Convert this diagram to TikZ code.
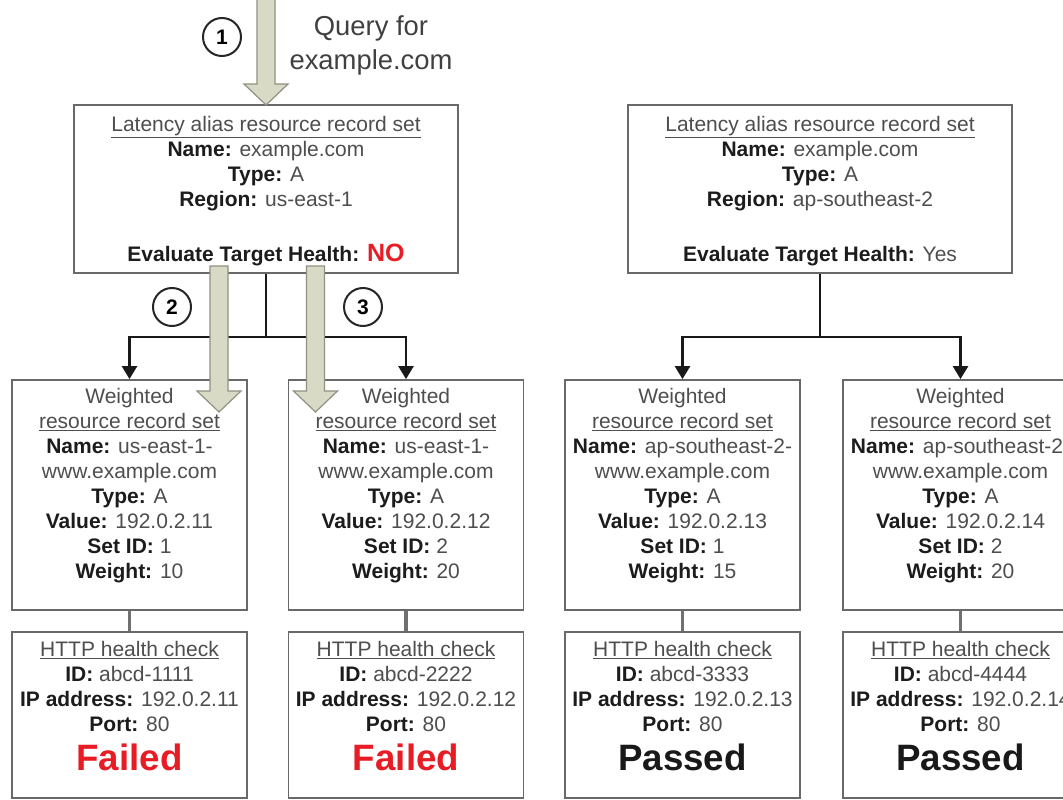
\documentclass[tikz,border=0pt]{standalone}
\usepackage{fontspec}
\setmainfont{Liberation Sans}
\usepackage{tikz}
\usetikzlibrary{arrows.meta,positioning,calc}
\definecolor{cText}{RGB}{78,78,78}
\definecolor{cLabel}{RGB}{28,28,28}
\definecolor{cBorder}{RGB}{105,105,105}
\definecolor{cFail}{RGB}{232,28,36}
\definecolor{cBlock}{RGB}{217,218,198}
\definecolor{cBlockLine}{RGB}{145,145,130}
\definecolor{cLink}{RGB}{112,112,112}
\newcommand{\lbl}[1]{\textbf{\color{cLabel}#1}}
\newcommand{\hdr}[1]{\underline{#1}}
\tikzset{
	recbox/.style={draw=cBorder, line width=1.8pt, fill=white, inner sep=0pt},
	latbox/.style={recbox, minimum width=384pt, minimum height=168pt},
	wbox/.style={recbox, minimum width=235pt, minimum height=230pt},
	hcbox/.style={recbox, minimum width=235pt, minimum height=166pt},
	rtext/.style={inner sep=0pt, align=center, text=cText,
		font=\fontsize{21}{25}\selectfont},
	stattxt/.style={inner sep=0pt, font=\fontsize{36.7}{40}\selectfont\bfseries},
	treeline/.style={line width=2.5pt, draw=black!90},
	treearr/.style={-{Triangle[length=13pt,width=15pt]}, line width=2.5pt,
		draw=black!90},
	hclink/.style={line width=3.5pt, draw=cLink},
	blockarr/.style={draw=cBlockLine, line width=1.2pt, fill=cBlock},
	stepnum/.style={circle, draw=black!85, line width=2pt, minimum size=38pt,
		inner sep=0pt, font=\fontsize{21}{21}\selectfont\bfseries},
}

\begin{document}
\begin{tikzpicture}[x=1pt, y=-1pt]
	\useasboundingbox (0,0) rectangle (1063,800);
	% latency records
	\node[latbox] (lat1) at (266,189) {};
	\node[latbox] (lat2) at (820,189) {};
	% weighted records and health checks
	\foreach \n/\cx in {1/129.5, 2/406, 3/682.5, 4/960.5} {
		\node[wbox] (w\n) at (\cx,495) {};
		\node[hcbox] (h\n) at (\cx,715) {};
		\draw[hclink] (w\n.south) -- (h\n.north);
	}
	\node[rtext, below=12pt of lat1.north] (lat1t) {\hdr{Latency alias resource record set}\\
		\lbl{Name:} example.com\\ \lbl{Type:} A\\ \lbl{Region:} us-east-1\\[30pt]
		\lbl{Evaluate Target Health:} {\fontsize{25}{25}\selectfont\bfseries\color{cFail}NO}};
	\node[rtext, below=12pt of lat2.north] (lat2t) {\hdr{Latency alias resource record set}\\
		\lbl{Name:} example.com\\ \lbl{Type:} A\\ \lbl{Region:} ap-southeast-2\\[30pt]
		\lbl{Evaluate Target Health:} Yes};
	\node[rtext, below=9pt of w1.north] (w1t) {Weighted\\ \hdr{resource record set}\\
		\lbl{Name:} us-east-1-\\ www.example.com\\ \lbl{Type:} A\\
		\lbl{Value:} 192.0.2.11\\ \lbl{Set ID:} 1\\ \lbl{Weight:} 10};
	\node[rtext, below=9pt of w2.north] (w2t) {Weighted\\ \hdr{resource record set}\\
		\lbl{Name:} us-east-1-\\ www.example.com\\ \lbl{Type:} A\\
		\lbl{Value:} 192.0.2.12\\ \lbl{Set ID:} 2\\ \lbl{Weight:} 20};
	\node[rtext, below=9pt of w3.north] (w3t) {Weighted\\ \hdr{resource record set}\\
		\lbl{Name:} ap-southeast-2-\\ www.example.com\\ \lbl{Type:} A\\
		\lbl{Value:} 192.0.2.13\\ \lbl{Set ID:} 1\\ \lbl{Weight:} 15};
	\node[rtext, below=9pt of w4.north] (w4t) {Weighted\\ \hdr{resource record set}\\
		\lbl{Name:} ap-southeast-2-\\ www.example.com\\ \lbl{Type:} A\\
		\lbl{Value:} 192.0.2.14\\ \lbl{Set ID:} 2\\ \lbl{Weight:} 20};
	\node[rtext, below=10pt of h1.north] (h1t) {\hdr{HTTP health check}\\
		\lbl{ID:} abcd-1111\\ \lbl{IP address:} 192.0.2.11\\ \lbl{Port:} 80};
	\node[rtext, below=10pt of h2.north] (h2t) {\hdr{HTTP health check}\\
		\lbl{ID:} abcd-2222\\ \lbl{IP address:} 192.0.2.12\\ \lbl{Port:} 80};
	\node[rtext, below=10pt of h3.north] (h3t) {\hdr{HTTP health check}\\
		\lbl{ID:} abcd-3333\\ \lbl{IP address:} 192.0.2.13\\ \lbl{Port:} 80};
	\node[rtext, below=10pt of h4.north] (h4t) {\hdr{HTTP health check}\\
		\lbl{ID:} abcd-4444\\ \lbl{IP address:} 192.0.2.14\\ \lbl{Port:} 80};
	\node[stattxt, text=cFail] (s1) at (129.5,757) {Failed};
	\node[stattxt, text=cFail] (s2) at (406,757) {Failed};
	\node[stattxt, text=black!90] (s3) at (682.5,757) {Passed};
	\node[stattxt, text=black!90] (s4) at (960.5,757) {Passed};
	% tree connectors
	\coordinate (j1) at (266,337);
	\coordinate (j2) at (820,337);
	\draw[treeline] (lat1.south) -- (j1);
	\draw[treearr] (j1) -| (w1.north);
	\draw[treearr] (j1) -| (w2.north);
	\draw[treeline] (lat2.south) -- (j2);
	\draw[treearr] (j2) -| (w3.north);
	\draw[treearr] (j2) -| (w4.north);
	% query path
	\foreach \bx/\btop/\btip in {266/-5/105, 219/266/412, 315.5/266/412} {
		\draw[blockarr] (\bx-9,\btop) -- (\bx-9,\btip-21) -- (\bx-22,\btip-21)
			-- (\bx,\btip) -- (\bx+22,\btip-21) -- (\bx+9,\btip-21)
			-- (\bx+9,\btop) -- cycle;
	}
	\node[stepnum] (c1) at (222,37) {1};
	\node[stepnum] (c2) at (172,307) {2};
	\node[stepnum] (c3) at (363,307) {3};
	\node[inner sep=0pt, align=center, text=black!75, anchor=north,
		font=\fontsize{27.4}{34}\selectfont] (query) at (371,15) {Query for\\ example.com};
\end{tikzpicture}
\end{document}
